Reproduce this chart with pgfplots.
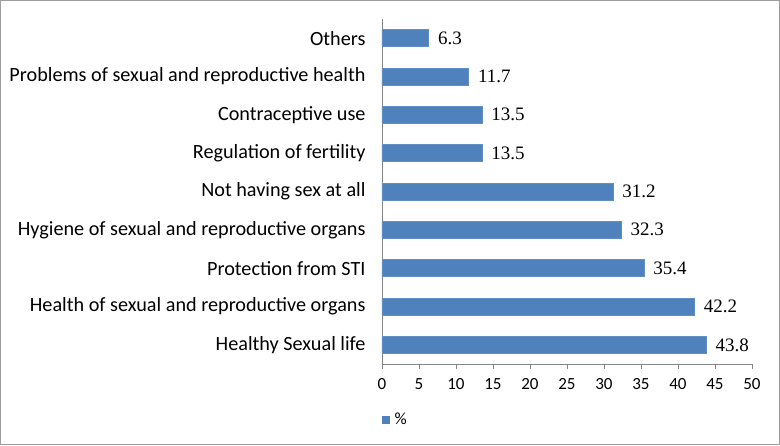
\documentclass[border=0pt]{standalone}
\usepackage{pgfplots}
\pgfplotsset{compat=1.18}
\usepackage{fontspec}
\setmainfont{Carlito}
\newfontfamily\valfont{Liberation Serif}
\definecolor{barblue}{RGB}{79,129,189}
\definecolor{axgray}{RGB}{134,134,134}
\begin{document}
\begin{tikzpicture}[x=1pt,y=1pt]
\path[use as bounding box] (0,0) rectangle (780,445);
\draw[axgray!80,line width=1.2pt] (0.8,0.8) rectangle (779.2,444.2);
\begin{axis}[
  at={(382pt,81pt)}, anchor=south west,
  scale only axis, width=370pt, height=345pt,
  xmin=0, xmax=50, ymin=-0.5, ymax=8.5,
  xtick={0,5,...,50},
  ytick={0,...,8},
  yticklabels={Healthy Sexual life,Health of sexual and reproductive organs,Protection from STI,Hygiene of sexual and reproductive organs,Not having sex at all,Regulation of fertility,Contraceptive use,Problems of sexual and reproductive health,Others},
  minor ytick={-0.5,0.5,...,8.5},
  axis x line*=bottom, axis y line*=left,
  axis line style={axgray,-},
  every tick/.style={axgray,line width=0.6pt},
  major tick length=5pt, minor tick length=5pt,
  tick align=outside,
  ytick style={draw=none},
  minor y tick style={axgray,line width=0.6pt},
  yticklabel style={font=\fontsize{20.2}{22}\selectfont, xshift=-8pt},
  xticklabel style={font=\fontsize{17}{18}\selectfont, yshift=-6pt},
  /pgf/number format/assume math mode=true,
  xbar, bar width=17pt,
  nodes near coords,
  every node near coord/.append style={font=\valfont\fontsize{19}{21}\selectfont, anchor=west, xshift=6pt},
  legend style={at={(0,-0.135)}, anchor=north west, draw=none, font=\fontsize{17}{18}\selectfont, legend cell align=left, inner sep=0pt, /tikz/every odd column/.append style={column sep=3pt}},
  legend image code/.code={\fill[barblue] (0pt,-3.5pt) rectangle (7pt,3.5pt);},
  clip=false,
]
\addplot[fill=barblue, draw=barblue!90!white] coordinates {
(43.8,0) (42.2,1) (35.4,2) (32.3,3) (31.2,4) (13.5,5) (13.5,6) (11.7,7) (6.3,8)};
\addlegendentry{\%}
\end{axis}
\end{tikzpicture}
\end{document}
